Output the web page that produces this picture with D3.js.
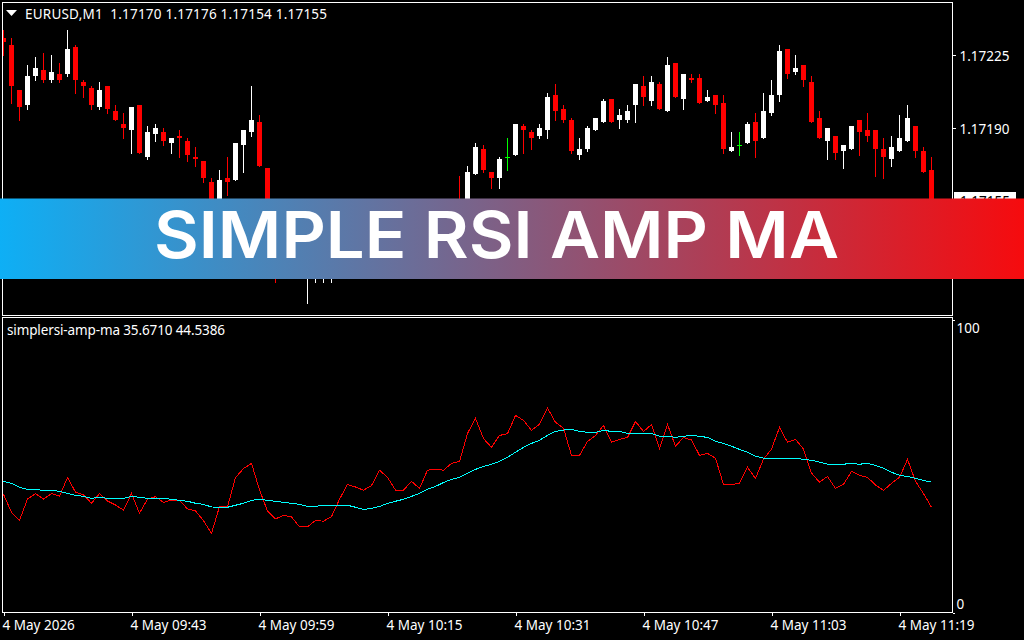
<!DOCTYPE html>
<html>
<head>
<meta charset="utf-8">
<title>Simple RSI AMP MA</title>
<script src="https://cdn.jsdelivr.net/npm/d3@7"></script>
<style>
  html, body { margin: 0; padding: 0; background: #000; overflow: hidden; }
  svg { display: block; }
  text { font-family: "Noto Sans", sans-serif; font-size: 13.5px; fill: #fff; }
  .axis path { display: none; }
  .axis line { stroke: #fff; shape-rendering: crispEdges; }
  .axis text { font-family: "Noto Sans", sans-serif; font-size: 13.5px; fill: #fff; }
  .title { font-family: Inter, sans-serif; font-weight: 600; font-size: 64.5px; }
</style>
</head>
<body>
<svg width="1024" height="640"></svg>
<script>
// EURUSD,M1 candles. bars 35-56 sit behind the banner so those are guesses
var opens = [1.17233,1.17230,1.17208,1.17201,1.17215,1.17218,1.17213,1.17216,1.17216,1.17229,1.17212,1.17209,1.17200,1.17210,1.17198,1.17192,1.17189,1.17201,1.17176,1.17187,1.17188,1.17183,1.17186,1.17184,1.17176,1.17174,1.17164,1.17152,1.17166,1.17165,1.17182,1.17188,1.17193,1.17171,1.17150,1.17133,1.17136,1.17133,1.17120,1.17124,1.17125,1.17128,1.17131,1.17141,1.17142,1.17141,1.17139,1.17143,1.17150,1.17147,1.17142,1.17141,1.17146,1.17142,1.17152,1.17153,1.17150,1.17155,1.17152,1.17168,1.17180,1.17169,1.17166,1.17176,1.17177,1.17191,1.17188,1.17186,1.17189,1.17206,1.17199,1.17194,1.17177,1.17180,1.17189,1.17193,1.17204,1.17194,1.17194,1.17201,1.17210,1.17203,1.17211,1.17198,1.17221,1.17204,1.17214,1.17214,1.17203,1.17206,1.17202,1.17179,1.17182,1.17183,1.17193,1.17185,1.17197,1.17206,1.17228,1.17217,1.17220,1.17212,1.17195,1.17184,1.17186,1.17179,1.17180,1.17194,1.17189,1.17189,1.17180,1.17175,1.17179,1.17184,1.17191,1.17179,1.17170];
var highs = [1.17237,1.17233,1.17208,1.17220,1.17224,1.17226,1.17225,1.17221,1.17237,1.17230,1.17213,1.17210,1.17212,1.17210,1.17201,1.17197,1.17200,1.17201,1.17191,1.17192,1.17190,1.17185,1.17189,1.17185,1.17181,1.17174,1.17166,1.17170,1.17176,1.17183,1.17189,1.17210,1.17196,1.17171,1.17153,1.17140,1.17138,1.17135,1.17127,1.17129,1.17130,1.17134,1.17144,1.17146,1.17145,1.17143,1.17145,1.17152,1.17152,1.17148,1.17144,1.17148,1.17147,1.17154,1.17155,1.17155,1.17156,1.17167,1.17172,1.17183,1.17182,1.17169,1.17176,1.17185,1.17192,1.17192,1.17189,1.17192,1.17207,1.17211,1.17201,1.17195,1.17185,1.17191,1.17195,1.17204,1.17204,1.17199,1.17201,1.17211,1.17215,1.17215,1.17212,1.17224,1.17221,1.17216,1.17216,1.17216,1.17208,1.17206,1.17206,1.17188,1.17188,1.17193,1.17197,1.17207,1.17213,1.17230,1.17228,1.17225,1.17220,1.17215,1.17198,1.17190,1.17186,1.17182,1.17191,1.17194,1.17197,1.17189,1.17185,1.17186,1.17196,1.17201,1.17191,1.17181,1.17176];
var lows = [1.17225,1.17202,1.17194,1.17199,1.17213,1.17212,1.17212,1.17212,1.17215,1.17207,1.17205,1.17199,1.17199,1.17197,1.17194,1.17185,1.17178,1.17178,1.17175,1.17184,1.17182,1.17178,1.17176,1.17174,1.17172,1.17164,1.17148,1.17150,1.17158,1.17165,1.17169,1.17186,1.17172,1.17145,1.17116,1.17128,1.17128,1.17120,1.17106,1.17116,1.17116,1.17116,1.17128,1.17138,1.17137,1.17136,1.17137,1.17141,1.17145,1.17140,1.17138,1.17139,1.17140,1.17140,1.17149,1.17147,1.17148,1.17150,1.17150,1.17168,1.17169,1.17161,1.17161,1.17170,1.17177,1.17178,1.17180,1.17185,1.17185,1.17194,1.17193,1.17178,1.17175,1.17179,1.17189,1.17193,1.17193,1.17190,1.17193,1.17193,1.17201,1.17201,1.17199,1.17198,1.17205,1.17199,1.17212,1.17202,1.17203,1.17197,1.17178,1.17179,1.17177,1.17183,1.17176,1.17185,1.17196,1.17203,1.17214,1.17216,1.17210,1.17193,1.17185,1.17175,1.17175,1.17171,1.17180,1.17177,1.17184,1.17167,1.17166,1.17172,1.17179,1.17184,1.17176,1.17169,1.17154];
var closes = [1.17231,1.17210,1.17200,1.17215,1.17219,1.17213,1.17217,1.17213,1.17228,1.17213,1.17210,1.17201,1.17208,1.17199,1.17194,1.17190,1.17200,1.17178,1.17188,1.17190,1.17184,1.17185,1.17185,1.17177,1.17175,1.17166,1.17151,1.17165,1.17164,1.17183,1.17189,1.17194,1.17172,1.17148,1.17132,1.17136,1.17133,1.17122,1.17124,1.17127,1.17128,1.17131,1.17141,1.17142,1.17141,1.17139,1.17143,1.17150,1.17147,1.17142,1.17141,1.17146,1.17142,1.17152,1.17153,1.17150,1.17155,1.17151,1.17169,1.17181,1.17170,1.17166,1.17175,1.17176,1.17192,1.17189,1.17185,1.17190,1.17205,1.17198,1.17194,1.17179,1.17180,1.17190,1.17195,1.17203,1.17193,1.17196,1.17198,1.17211,1.17205,1.17212,1.17199,1.17220,1.17205,1.17216,1.17213,1.17202,1.17205,1.17201,1.17180,1.17181,1.17182,1.17192,1.17184,1.17198,1.17206,1.17227,1.17216,1.17219,1.17213,1.17193,1.17185,1.17190,1.17178,1.17182,1.17191,1.17188,1.17186,1.17180,1.17176,1.17181,1.17185,1.17195,1.17179,1.17169,1.17155];

// indicator values, same 117 bars
var rsi = [40.2,33.9,31.1,38.6,40.5,38.6,40.5,39.6,46.1,41.0,40.0,37.1,40.5,37.9,36.5,34.7,40.5,33.6,38.6,39.4,37.4,38.2,38.2,35.1,34.4,31.0,26.5,36.0,35.8,46.1,49.3,51.1,41.8,34.4,31.6,32.9,32.3,28.8,28.8,31.1,30.8,32.4,38.5,43.7,42.8,41.7,43.3,48.7,46.2,41.7,41.7,44.8,42.3,48.7,49.0,48.7,51.1,51.8,61.6,66.9,59.8,56.7,60.9,61.5,67.9,66.2,62.7,64.8,70.5,65.5,63.4,53.9,53.9,58.8,60.9,64.4,58.5,59.5,60.2,65.8,62.3,64.7,56.4,64.8,57.1,60.2,59.3,53.9,54.6,52.9,43.7,43.7,44.1,49.7,45.8,52.6,56.1,63.7,58.5,59.5,56.1,47.7,44.5,46.5,42.3,43.7,48.3,46.9,46.2,43.5,41.6,44.1,46.2,52.5,44.8,40.5,35.67];
var ma = [44.8,44.1,42.7,42.0,42.0,41.6,41.6,41.3,40.6,39.9,39.5,38.8,39.2,38.8,38.8,38.8,39.5,39.2,38.8,38.8,38.8,38.5,38.1,37.8,37.1,36.7,35.8,35.7,35.7,36.4,37.1,38.1,38.5,38.1,37.8,37.4,37.1,36.7,36.0,36.0,36.4,36.4,36.4,36.4,35.7,34.9,35.3,36.0,37.0,37.8,38.5,39.5,40.6,42.0,43.0,44.4,45.5,46.2,47.6,49.0,50.0,50.8,51.8,53.2,55.0,56.7,58.1,59.2,60.9,62.3,62.8,63.0,62.3,62.0,62.0,62.7,62.3,62.3,61.6,61.6,61.6,61.6,60.6,60.6,60.2,60.6,60.9,60.6,60.2,58.8,58.1,57.1,56.0,55.0,53.6,52.9,52.9,52.9,52.9,52.9,52.5,52.2,51.5,50.8,50.8,50.8,51.1,50.8,51.1,50.4,49.4,48.0,46.9,46.5,45.8,45.1,44.54];

var priceTicks = [1.17190, 1.17225];
var rsiTicks = [0, 100];
var timeTickBars = [0, 16, 32, 48, 64, 80, 96, 112];
var timeTickLabels = ["4 May 2026", "4 May 09:43", "4 May 09:59", "4 May 10:15", "4 May 10:31", "4 May 10:47", "4 May 11:03", "4 May 11:19"];

var symbolLabel = "EURUSD,M1  1.17170 1.17176 1.17154 1.17155";
var indicatorLabel = "simplersi-amp-ma 35.6710 44.5386";
var lastPrice = closes[closes.length - 1];

var svg = d3.select("svg");

var x = d3.scaleLinear().domain([0, opens.length - 1]).range([3.5, 931.5]);
var y = d3.scaleLinear().domain([priceTicks[0], priceTicks[1]]).range([128, 55]);
var yRsi = d3.scaleLinear().domain([0, 100]).range([609, 324]);
// MT4 puts the sub window ticks at the very edges of the pane
var yRsiAxis = d3.scaleLinear().domain([0, 100]).range([612.5, 319.5]);

var defs = svg.append("defs");
defs.append("clipPath").attr("id", "main-clip").append("rect")
    .attr("x", 3).attr("y", 3).attr("width", 949).attr("height", 312);

var grad = defs.append("linearGradient").attr("id", "banner-grad");
grad.append("stop").attr("offset", "0%").attr("stop-color", "#0eaff5");
grad.append("stop").attr("offset", "100%").attr("stop-color", "#f60b0e");

// pane borders
var panes = [[2.5, 2.5, 950, 313], [2.5, 317.5, 950, 295]];
svg.selectAll(".pane")
    .data(panes)
  .enter().append("rect")
    .attr("class", "pane")
    .attr("x", function(d) { return d[0]; })
    .attr("y", function(d) { return d[1]; })
    .attr("width", function(d) { return d[2]; })
    .attr("height", function(d) { return d[3]; })
    .attr("fill", "none")
    .attr("stroke", "#fff")
    .attr("shape-rendering", "crispEdges");

// candles
var bars = d3.range(opens.length);
function candleColor(i) {
  if (opens[i] === closes[i]) return "#00ff00";
  return closes[i] > opens[i] ? "#fff" : "#ff0000";
}

var candles = svg.append("g")
    .attr("clip-path", "url(#main-clip)")
    .attr("shape-rendering", "crispEdges");

candles.selectAll(".wick")
    .data(bars)
  .enter().append("rect")
    .attr("class", "wick")
    .attr("x", function(i) { return x(i) - 0.5; })
    .attr("width", 1)
    .attr("y", function(i) { return Math.round(y(highs[i])); })
    .attr("height", function(i) { return Math.round(y(lows[i])) - Math.round(y(highs[i])) + 1; })
    .attr("fill", candleColor);

candles.selectAll(".body")
    .data(bars)
  .enter().append("rect")
    .attr("class", "body")
    .attr("x", function(i) { return x(i) - 2.5; })
    .attr("width", 5)
    .attr("y", function(i) { return Math.round(y(Math.max(opens[i], closes[i]))); })
    .attr("height", function(i) { return Math.max(1, Math.round(y(Math.min(opens[i], closes[i]))) - Math.round(y(Math.max(opens[i], closes[i])))); })
    .attr("fill", candleColor);

// indicator lines
var line = d3.line()
    .x(function(d, i) { return x(i); })
    .y(function(d) { return yRsi(d); });

svg.append("path").datum(rsi)
    .attr("d", line)
    .attr("fill", "none")
    .attr("stroke", "#ff0000")
    .attr("shape-rendering", "crispEdges");

svg.append("path").datum(ma)
    .attr("d", line)
    .attr("fill", "none")
    .attr("stroke", "#00ffff")
    .attr("shape-rendering", "crispEdges");

// axes
var priceAxis = svg.append("g")
    .attr("class", "axis")
    .attr("transform", "translate(952.5,0)")
    .call(d3.axisRight(y).tickValues(priceTicks).tickSize(3).tickPadding(4).tickFormat(d3.format(".5f")));
priceAxis.selectAll("text").attr("dy", "1.2em");
priceAxis.selectAll("text").attr("dy", 5.8);

var rsiAxis = svg.append("g")
    .attr("class", "axis")
    .attr("transform", "translate(952.5,0)")
    .call(d3.axisRight(yRsiAxis).tickValues(rsiTicks).tickSize(2).tickPadding(2).tickFormat(d3.format("d")));
rsiAxis.selectAll("text")
    .attr("dy", function(d) { return d === 100 ? 12.8 : -3.8; });

var timeAxis = svg.append("g")
    .attr("class", "axis")
    .attr("transform", "translate(0,613)")
    .call(d3.axisBottom(x).tickValues(timeTickBars).tickSize(3).tickPadding(3)
      .tickFormat(function(d, i) { return timeTickLabels[i]; }));
timeAxis.selectAll("text").attr("text-anchor", "start").attr("x", -1.5).attr("y", 17).attr("dy", 0);

// header + bid label
svg.append("path")
    .attr("d", d3.line()([[6, 10], [17, 10], [11.5, 16]]) + "Z")
    .attr("fill", "#fff");
svg.append("text").attr("x", 25).attr("y", 18.5).attr("xml:space", "preserve")
    .attr("textLength", 302).text(symbolLabel);
svg.append("text").attr("x", 7).attr("y", 335)
    .attr("textLength", 218).text(indicatorLabel);

svg.append("rect")
    .attr("x", 954).attr("y", 192).attr("width", 62).attr("height", 16)
    .attr("fill", "#fff");
svg.append("text").attr("x", 960).attr("y", y(lastPrice) + 5)
    .style("fill", "#000")
    .text(d3.format(".5f")(lastPrice));

// banner on top of the chart
svg.append("rect")
    .attr("x", 0).attr("y", 198.5).attr("width", 1024).attr("height", 80.5)
    .attr("fill", "url(#banner-grad)");
svg.append("text")
    .attr("class", "title")
    .attr("x", 154).attr("y", 258)
    .attr("textLength", 685)
    .attr("lengthAdjust", "spacingAndGlyphs")
    .text("SIMPLE RSI AMP MA");
</script>
</body>
</html>
